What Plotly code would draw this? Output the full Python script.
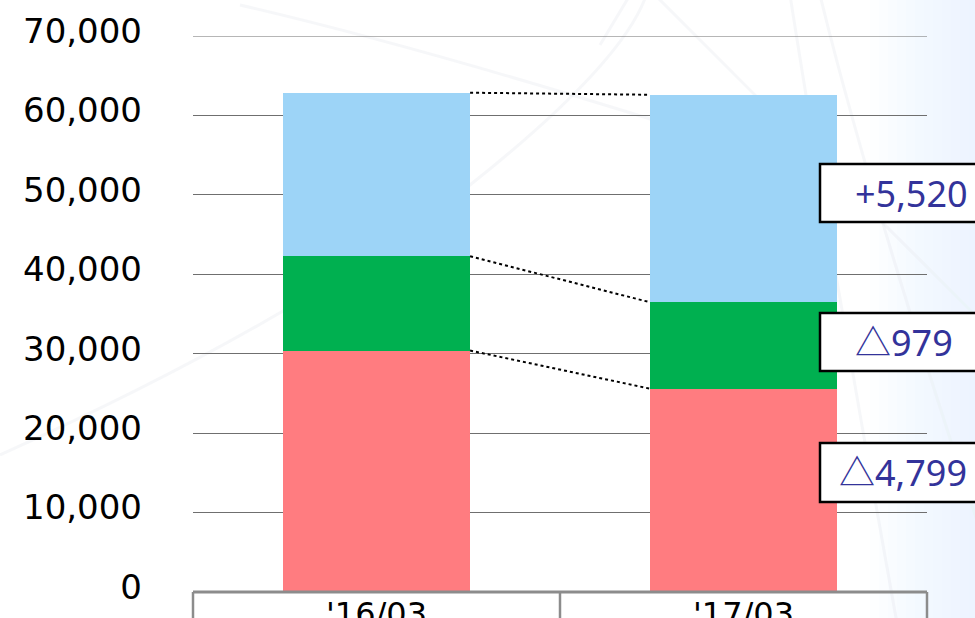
import plotly.graph_objects as go

# ---- data ----
categories = ["'16/03", "'17/03"]
seg_red = [30400, 25601]
seg_green = [11860, 10881]
seg_blue = [20600, 26120]
change_labels = ["△4,799", "△979", "+5,520"]
y_tick_vals = [0, 10000, 20000, 30000, 40000, 50000, 60000, 70000]
y_tick_text = ["0", "10,000", "20,000", "30,000", "40,000", "50,000", "60,000", "70,000"]

# ---- style ----
colors = ["#FF7C80", "#00B050", "#9DD4F7"]
bar_w = 0.51
xpos = [0, 1]

# plot area wanted at page x 193..927, y 36..592 (body margin removed via post_script)
FW, FH = 975, 618
PL, PR, PT, PB = 193, 927, 36, 592
W, H = PR - PL, PB - PT
def px(x):
    return (x - PL) / W
def py(y):
    return (PB - y) / H

fig = go.Figure()
segments = [seg_red, seg_green, seg_blue]
for vals, col in zip(segments, colors):
    fig.add_trace(go.Bar(x=xpos, y=vals, width=bar_w, marker_color=col,
                         marker_line_width=0, showlegend=False, hoverinfo="skip"))

# cumulative tops for connector lines
cum = []
run = [0, 0]
for vals in segments:
    run = [run[i] + vals[i] for i in range(2)]
    cum.append(list(run))

for tops in cum:
    fig.add_trace(go.Scatter(x=[xpos[0] + bar_w / 2, xpos[1] - bar_w / 2], y=tops,
                             mode="lines", line=dict(color="black", width=2, dash="dot"),
                             showlegend=False, hoverinfo="skip"))

shapes = []
# faint decorative background
deco = "rgba(200,205,215,0.16)"
curves = [
    "M {} {} Q {} {} {} {} T {} {}".format(px(0), py(455), px(300), py(320), px(470), py(185), px(650), py(-20)),
    "M {} {} Q {} {} {} {}".format(px(240), py(5), px(520), py(70), px(990), py(230)),
    "M {} {} L {} {}".format(px(655), py(-5), px(990), py(330)),
    "M {} {} Q {} {} {} {}".format(px(790), py(-5), px(830), py(250), px(900), py(640)),
    "M {} {} Q {} {} {} {}".format(px(820), py(-5), px(870), py(200), px(990), py(560)),
    "M {} {} L {} {}".format(px(600), py(45), px(630), py(-5)),
]
for c in curves:
    shapes.append(dict(type="path", xref="paper", yref="paper", path=c,
                       line=dict(color=deco, width=3), layer="below"))
for i in range(12):
    shapes.append(dict(type="rect", xref="paper", yref="paper", x0=px(870 + i * 9), x1=px(1000),
                       y0=py(640), y1=py(-10), line=dict(width=0),
                       fillcolor="rgba(232,240,250,0.09)", layer="below"))

# top gridline at the last tick
shapes.append(dict(type="line", xref="paper", yref="y", x0=0, x1=1,
                   y0=y_tick_vals[-1], y1=y_tick_vals[-1], line=dict(color="#6F6F6F", width=1),
                   layer="below"))

# change boxes
box_rows = [(443, 502, 903), (313, 371, 904), (164, 222, 911)]
annotations = []
for (y0, y1, xc), lab in zip(box_rows, change_labels):
    shapes.append(dict(type="rect", xref="paper", yref="paper", x0=px(820), x1=px(1010),
                       y0=py(y1), y1=py(y0), line=dict(color="black", width=2.5),
                       fillcolor="white", layer="above"))
    annotations.append(dict(xref="paper", yref="paper", x=px(xc), y=py((y0 + y1) / 2),
                            text=lab, showarrow=False, xanchor="center", yanchor="middle",
                            font=dict(family="Noto Sans, Noto Sans CJK JP", size=36, color="#33339A")))

# table lines under the axis
shapes.append(dict(type="line", xref="paper", yref="paper", x0=0, x1=1, y0=0, y1=0,
                   line=dict(color="#8C8C8C", width=3), layer="above"))
for xx in [0, 0.5, 1]:
    shapes.append(dict(type="line", xref="paper", yref="paper", x0=xx, x1=xx, y0=0, y1=py(640),
                       line=dict(color="#8C8C8C", width=2.5), layer="above"))

fig.update_layout(
    width=FW, height=FH,
    margin=dict(l=PL, r=FW - PR, t=PT, b=FH - PB, autoexpand=False),
    paper_bgcolor="white", plot_bgcolor="rgba(0,0,0,0)",
    barmode="stack",
    shapes=shapes, annotations=annotations,
    font=dict(family="DejaVu Sans", color="black"),
)
fig.update_xaxes(range=[-0.5, 1.5], tickvals=xpos, ticktext=categories, showgrid=False,
                 zeroline=False, showline=False, ticks="", tickfont=dict(size=32, color="black"))
fig.update_yaxes(range=[0, 70000], tickvals=y_tick_vals, ticktext=y_tick_text,
                 showgrid=True, gridcolor="#6F6F6F", gridwidth=1, zeroline=False, showline=False,
                 ticks="", ticklabelstandoff=50, ticklabelshift=-5,
                 tickfont=dict(size=34, color="black"))

fig.write_html(
    "out.html",
    config={"displayModeBar": False},
    post_script="document.body.style.margin='0';document.documentElement.style.overflow='hidden';",
)
